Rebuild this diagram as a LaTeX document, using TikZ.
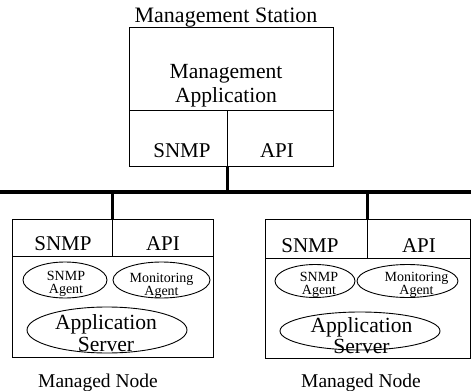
\documentclass[tikz,border=0pt]{standalone}
\usepackage{fontspec}
\setmainfont{Liberation Serif}
\usetikzlibrary{shapes.geometric}
\begin{document}
\begin{tikzpicture}[x=1pt,y=-1pt,
  cell/.style={draw,line width=0.9pt,inner sep=0pt},
  oval/.style={draw,ellipse,line width=0.9pt,inner sep=0pt},
  bus/.style={line width=3.6pt},
  big/.style={inner sep=0pt,anchor=base,align=center,font=\fontsize{21.6}{24}\selectfont},
  proto/.style={inner sep=0pt,anchor=base,font=\fontsize{21}{24}\selectfont},
  title/.style={inner sep=0pt,anchor=base,font=\fontsize{22}{24}\selectfont},
  lbl/.style={inner sep=0pt,anchor=base,font=\fontsize{19.5}{24}\selectfont},
  small/.style={inner sep=0pt,anchor=base,align=center,font=\fontsize{14}{12.5}\selectfont}]
\useasboundingbox (0,0) rectangle (472,391);

% ---- management station ----
% (two-line labels are placed by the baseline of their last line)
\node[cell,minimum width=204pt,minimum height=83pt] (msapp) at (231,68.5) {};
\node[cell,minimum width=98pt,minimum height=56pt] (mssnmp) at (178,138) {};
\node[cell,minimum width=106pt,minimum height=56pt] (msapi) at (280,138) {};
\node[title] (mstitle) at (226,22.5) {Management Station};
\node[big,font=\fontsize{21.6}{24}\selectfont] (msappt) at (226,102) {Management\\Application};
\node[proto] (mssnmpt) at (182,157) {SNMP};
\node[proto] (msapit) at (277,157) {API};

% ---- network bus ----
\coordinate (busL) at (0,192);
\coordinate (busR) at (471,192);
\draw[bus] (busL) -- (busR);

% ---- left managed node ----
\node[cell,minimum width=100pt,minimum height=37pt] (lsnmp) at (62,237.5) {};
\node[cell,minimum width=101pt,minimum height=37pt] (lapi) at (162.5,237.5) {};
\node[cell,minimum width=201pt,minimum height=101pt] (lbody) at (112.5,306.5) {};
\node[oval,minimum width=84pt,minimum height=36pt] (lagent) at (65,280) {};
\node[oval,minimum width=97pt,minimum height=36pt] (lmon) at (161.5,280) {};
\node[oval,minimum width=160pt,minimum height=46pt] (lserver) at (107,330) {};
\node[proto] (lsnmpt) at (63,250) {SNMP};
\node[proto] (lapit) at (163,250) {API};
\node[small] (lagentt) at (66,293) {SNMP\\Agent};
\node[small] (lmont) at (161.5,295) {Monitoring\\Agent};
\node[big,font=\fontsize{21.6}{21.5}\selectfont] (lservert) at (106,351) {Application\\Server};
\node[lbl] (lname) at (98,387) {Managed Node};

% ---- right managed node ----
\node[cell,minimum width=102pt,minimum height=39pt] (rsnmp) at (316,238.5) {};
\node[cell,minimum width=103pt,minimum height=39pt] (rapi) at (418.5,238.5) {};
\node[cell,minimum width=205pt,minimum height=100pt] (rbody) at (367.5,308) {};
\node[oval,minimum width=80pt,minimum height=33pt] (ragent) at (315,281) {};
\node[oval,minimum width=101pt,minimum height=33pt] (rmon) at (407.5,281) {};
\node[oval,minimum width=160pt,minimum height=38pt] (rserver) at (360,331) {};
\node[proto] (rsnmpt) at (310,252) {SNMP};
\node[proto] (rapit) at (419,252) {API};
\node[small] (ragentt) at (319,294) {SNMP\\Agent};
\node[small] (rmont) at (416.5,294) {Monitoring\\Agent};
\node[big,font=\fontsize{21.6}{21}\selectfont] (rservert) at (361.5,353) {Application\\Server};
\node[lbl] (rname) at (361,387) {Managed Node};

% ---- taps onto the bus ----
\draw[bus] (mssnmp.south east) -- (mssnmp.south east |- busL);
\draw[bus] (lsnmp.north east |- busL) -- (lsnmp.north east);
\draw[bus] (rsnmp.north east |- busL) -- (rsnmp.north east);
\end{tikzpicture}
\end{document}
